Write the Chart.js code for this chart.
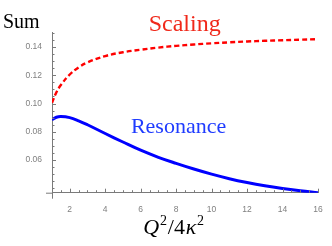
<!DOCTYPE html>
<html>
<head>
<meta charset="utf-8">
<script src="https://cdn.jsdelivr.net/npm/chart.js@4"></script>
<style>
  body { margin: 0; background: #fff; }
  canvas { display: block; }
</style>
</head>
<body>
<canvas id="myChart" width="332" height="246"></canvas>
<script>
// values
var xValues = [1, 1.25, 1.5, 2, 2.5, 3, 4, 5, 6, 7, 8, 9, 10, 11, 12, 13, 14, 15, 16];
var scaling = [0.1005, 0.1080, 0.1130, 0.1205, 0.1255, 0.1290, 0.1335, 0.1362, 0.1380, 0.1395, 0.1407, 0.1417, 0.1425, 0.1432, 0.1438, 0.1443, 0.1447, 0.1451, 0.1454];
var resonance = [0.0885, 0.0903, 0.0908, 0.0900, 0.0878, 0.0850, 0.0788, 0.0728, 0.0670, 0.0620, 0.0577, 0.0537, 0.0501, 0.0469, 0.0442, 0.0419, 0.0400, 0.0384, 0.0370];

var xTickLabels = [2, 4, 6, 8, 10, 12, 14, 16];
var yTickLabels = [0.06, 0.08, 0.10, 0.12, 0.14];

function toPoints(ys) {
  return xValues.map((x, i) => ({ x: x, y: ys[i] }));
}

function isMajor(list, v) {
  return list.some(t => Math.abs(t - v) < 1e-9);
}

// inward tick marks + axis overhang + text labels
var decor = {
  id: 'decor',
  afterDraw: function (chart) {
    var ctx = chart.ctx;
    var xs = chart.scales.x, ys = chart.scales.y;
    var area = chart.chartArea;
    ctx.save();
    ctx.strokeStyle = '#7a7a7a';
    ctx.lineWidth = 1;
    ctx.beginPath();
    ctx.moveTo(area.left - 6, area.bottom + 0.5);
    ctx.lineTo(area.left, area.bottom + 0.5);
    ctx.moveTo(area.left + 0.5, area.bottom);
    ctx.lineTo(area.left + 0.5, area.bottom + 6);
    xs.ticks.forEach(t => {
      var px = Math.round(xs.getPixelForValue(t.value)) + 0.5;
      var len = isMajor(xTickLabels, t.value) ? 4 : 2.5;
      ctx.moveTo(px, area.bottom);
      ctx.lineTo(px, area.bottom - len);
    });
    ys.ticks.forEach(t => {
      var py = Math.round(ys.getPixelForValue(t.value)) + 0.5;
      var len = isMajor(yTickLabels, t.value) ? 4 : 2.5;
      ctx.moveTo(area.left, py);
      ctx.lineTo(area.left + len, py);
    });
    ctx.stroke();

    ctx.textBaseline = 'alphabetic';
    ctx.textAlign = 'left';
    ctx.fillStyle = '#000';
    ctx.font = '20px "Liberation Serif"';
    ctx.fillText('Sum', 3, area.top - 4);

    ctx.fillStyle = '#f0281a';
    ctx.font = '24px "Liberation Serif"';
    ctx.fillText('Scaling', xs.getPixelForValue(6.45), ys.getPixelForValue(0.1510));

    ctx.fillStyle = '#1f3cff';
    ctx.font = '22px "Liberation Serif"';
    ctx.fillText('Resonance', xs.getPixelForValue(5.45), ys.getPixelForValue(0.0795));

    // x axis title Q^2/4k^2
    var parts = [
      ['Q', 'italic 22px "Liberation Serif"', 0],
      ['2', '14px "Liberation Serif"', -9],
      ['/4', '22px "Liberation Serif"', 0],
      ['\u03BA', 'italic 22px "Liberation Serif"', 0],
      ['2', '14px "Liberation Serif"', -9]
    ];
    var px = xs.getPixelForValue(6.15);
    var base = area.bottom + 41;
    ctx.fillStyle = '#000';
    parts.forEach(p => {
      ctx.font = p[1];
      ctx.fillText(p[0], px, base + p[2]);
      px += ctx.measureText(p[0]).width + 0.8;
    });
    ctx.restore();
  }
};

var tickFont = { family: 'Liberation Sans', size: 8.5 };

var ctx = document.getElementById('myChart').getContext('2d');
var myChart = new Chart(ctx, {
  type: 'line',
  data: {
    datasets: [
      {
        label: 'Scaling',
        data: toPoints(scaling),
        borderColor: '#ff0000',
        borderWidth: 2.4,
        borderDash: [5, 3],
        pointRadius: 0,
        tension: 0.4,
        fill: false
      },
      {
        label: 'Resonance',
        data: toPoints(resonance),
        borderColor: '#0000ff',
        borderWidth: 3,
        pointRadius: 0,
        tension: 0.4,
        fill: false
      }
    ]
  },
  options: {
    responsive: false,
    animation: false,
    layout: { padding: { left: 0, top: 32, right: 14, bottom: 0 } },
    plugins: { legend: { display: false }, tooltip: { enabled: false } },
    scales: {
      x: {
        type: 'linear',
        min: 1,
        max: 16,
        grid: { display: false },
        border: { display: true, color: '#7a7a7a', width: 1 },
        afterBuildTicks: function (scale) {
          var t = [];
          for (var i = 3; i <= 32; i++) t.push({ value: i / 2 });
          scale.ticks = t;
        },
        afterFit: function (scale) { scale.height = 53.3; },
        ticks: {
          autoSkip: false,
          maxRotation: 0,
          padding: 4,
          color: '#808080',
          font: tickFont,
          callback: function (v) { return isMajor(xTickLabels, v) ? String(v) : ''; }
        }
      },
      y: {
        type: 'linear',
        min: 0.037,
        max: 0.1505,
        grid: { display: false },
        border: { display: true, color: '#7a7a7a', width: 1 },
        afterBuildTicks: function (scale) {
          var t = [];
          for (var i = 8; i <= 30; i++) t.push({ value: Math.round(i * 5) / 1000 });
          scale.ticks = t;
        },
        afterFit: function (scale) { scale.width = 52; },
        ticks: {
          autoSkip: false,
          padding: 2,
          color: '#808080',
          font: tickFont,
          callback: function (v) { return isMajor(yTickLabels, v) ? v.toFixed(2) : ''; }
        }
      }
    }
  },
  plugins: [decor]
});
</script>
</body>
</html>
